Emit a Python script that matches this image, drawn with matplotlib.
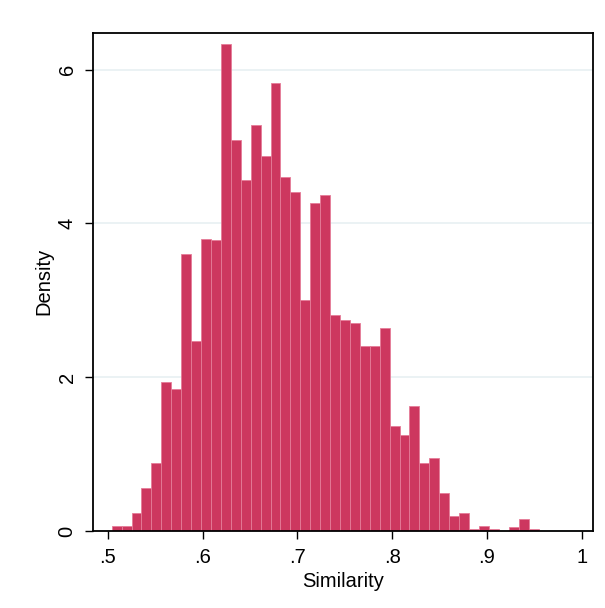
import matplotlib
matplotlib.use("Agg")
import numpy as np
import matplotlib.pyplot as plt

plt.rcParams['font.family'] = ['Liberation Sans', 'DejaVu Sans']

# histogram of similarity scores (density), 43 equal bins
bin_start = 0.5042
bin_width = 0.01047
density = [
    0.07, 0.06, 0.23, 0.56, 0.88, 1.94, 1.85, 3.60, 2.47, 3.80,
    3.79, 6.33, 5.08, 4.57, 5.28, 4.88, 5.83, 4.61, 4.41, 3.01,
    4.26, 4.37, 2.81, 2.75, 2.70, 2.40, 2.41, 2.64, 1.37, 1.25,
    1.62, 0.89, 0.95, 0.49, 0.19, 0.24, 0.02, 0.06, 0.03, 0.0,
    0.05, 0.15, 0.02,
]
xticks = [0.5, 0.6, 0.7, 0.8, 0.9, 1.0]
xtick_labels = [".5", ".6", ".7", ".8", ".9", "1"]
yticks = [0, 2, 4, 6]

fig = plt.figure(figsize=(6.05, 6.08), dpi=100)
ax = fig.add_axes([0.1542, 0.1266, 0.8265, 0.8196])

edges = bin_start + bin_width * np.arange(len(density))
ax.bar(edges, density, width=bin_width, align='edge',
       color='#CD375F', edgecolor='#E57C98', linewidth=0.6, zorder=2)

ax.set_xlim(0.4848, 1.0122)
ax.set_ylim(0, 6.48)

ax.set_axisbelow(True)
ax.yaxis.grid(True, color='#E8F0F2', linewidth=1.2)
ax.set_yticks(yticks)
ax.set_yticklabels([str(v) for v in yticks], rotation=90, va='center')
ax.set_xticks(xticks)
ax.set_xticklabels(xtick_labels)

for s in ax.spines.values():
    s.set_linewidth(1.3)
    s.set_color('black')

ax.tick_params(axis='both', direction='out', length=6, width=1.0,
               labelsize=14.5, pad=6, colors='black')

ax.set_xlabel("Similarity", fontsize=14.5, labelpad=4)
ax.set_ylabel("Density", fontsize=14.5, labelpad=3)

fig.savefig("out.png", dpi=100, facecolor='white')
